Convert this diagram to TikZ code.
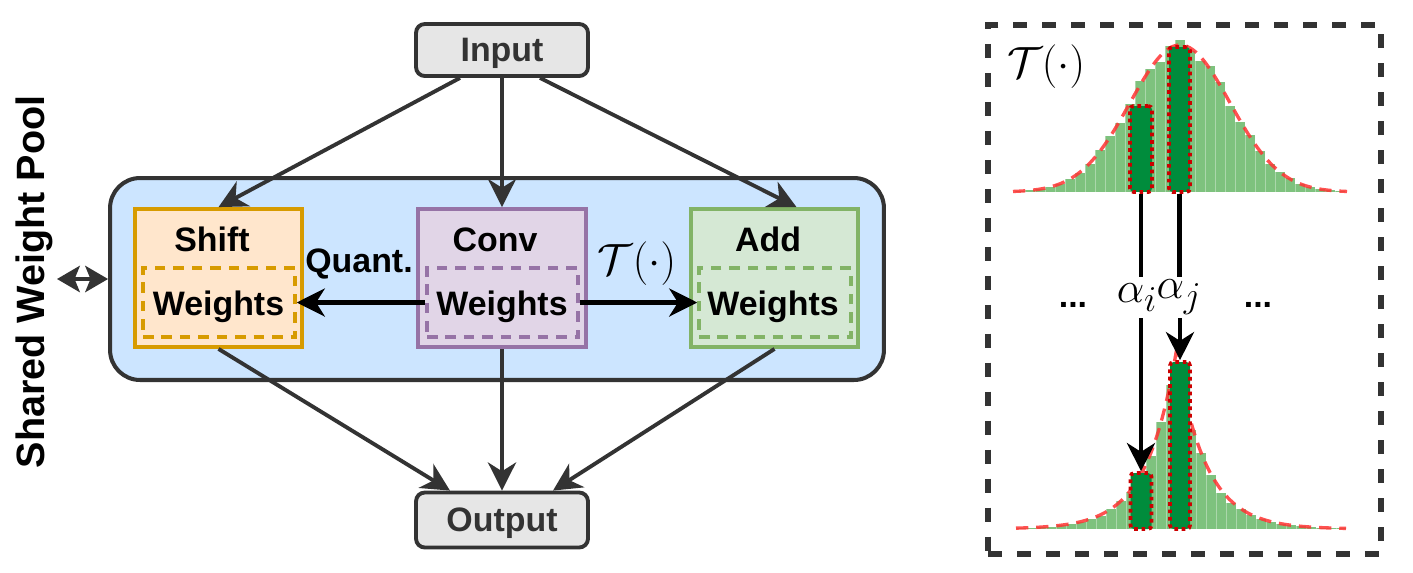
\documentclass[tikz,border=0pt]{standalone}
\usepackage{fontspec}
\setmainfont{Liberation Sans}
\usetikzlibrary{arrows.meta,calc}
\definecolor{dk}{HTML}{333333}
\definecolor{grayf}{HTML}{E6E6E6}
\definecolor{bluef}{HTML}{CCE5FF}
\definecolor{shiftf}{HTML}{FFE6CC}
\definecolor{shiftd}{HTML}{D79B00}
\definecolor{convf}{HTML}{E1D5E7}
\definecolor{convd}{HTML}{9673A6}
\definecolor{addf}{HTML}{D5E8D4}
\definecolor{addd}{HTML}{82B366}
\definecolor{histg}{RGB}{126,194,126}
\definecolor{darkg}{RGB}{0,140,60}
\definecolor{dotred}{HTML}{CC0000}
\definecolor{curvered}{HTML}{FF3333}
\newcommand\lblfont{\fontsize{19.3}{23}\selectfont\bfseries}
\newcommand\poolfont{\fontsize{22.5}{26}\selectfont\bfseries}
\newcommand\mathbig{\Huge}
\tikzset{
  tipA/.tip={Stealth[length=16pt,width=16pt,inset=5pt]},
  tipB/.tip={Stealth[length=13pt,width=15pt,inset=3pt]},
  iobox/.style={draw=dk, line width=2.2pt, rounded corners=5pt, fill=grayf,
    minimum width=3.44cm, font=\lblfont, text=dk, inner sep=0pt, text depth=0pt},
  modbox/.style={line width=2.2pt, minimum width=3.34cm, minimum height=2.76cm, inner sep=0pt},
  wbox/.style={dash pattern=on 6pt off 4.5pt, line width=2pt, minimum width=3.04cm,
    minimum height=1.38cm, inner sep=0pt},
  lbl/.style={font=\lblfont, inner sep=0pt, anchor=base},
  garrow/.style={draw=dk, line width=2.2pt, -tipA},
  karrow/.style={draw=black, line width=2.4pt, -tipA},
  hbar/.style={fill=darkg, draw=dotred, line width=2.1pt, dash pattern=on 2.1pt off 2.1pt,
    rounded corners=2pt, inner sep=0pt},
  redcurve/.style={draw=curvered, opacity=0.85, line width=1.9pt, dash pattern=on 7pt off 4.5pt}
}
\begin{document}
\begin{tikzpicture}[x=0.02cm,y=-0.02cm]
\useasboundingbox (0,0) rectangle (1413,572);

% ---------- left part ----------
\node[draw=dk, line width=2.3pt, fill=bluef, rounded corners=0.6cm,
      minimum width=15.48cm, minimum height=4.04cm] (pool) at (497,279) {};

\node[iobox, minimum height=1.04cm] (input) at (502,50) {Input};
\node[iobox, minimum height=1.10cm] (output) at (502,520) {Output};

\node[modbox, draw=shiftd, fill=shiftf] (shift) at (218.5,278) {};
\node[modbox, draw=convd, fill=convf, minimum width=3.36cm] (conv) at (502,278) {};
\node[modbox, draw=addd, fill=addf] (add) at (774.5,278) {};

\node[wbox, draw=shiftd] (shiftw) at (219,302.5) {};
\node[wbox, draw=convd, minimum width=3.02cm] (convw) at (502.5,302.5) {};
\node[wbox, draw=addd] (addw) at (775,302.5) {};

\node[lbl] (shiftt) at (212,251) {Shift};
\node[lbl] (convt) at (495,251) {Conv};
\node[lbl] (addt) at (768,251) {Add};

\node[lbl] (shiftwt) at (218.5,315) {Weights};
\node[lbl] (convwt) at (502,315) {Weights};
\node[lbl] (addwt) at (773,315) {Weights};

\node[lbl] (quant) at (359,272) {Quant.};
\node[inner sep=0pt, font=\mathbig] (tmid) at (637,264) {$\mathcal{T}(\cdot)$};

\node[rotate=90, font=\poolfont, inner sep=0pt] (poolt) at (34,282) {Shared Weight Pool};
\coordinate (poolend) at (57,279);
\coordinate (poolmid) at (83,279);
\draw[draw=dk, line width=2pt, -tipB] (poolmid) -- (poolend);
\draw[draw=dk, line width=2pt, -tipB] (poolmid) -- (pool.west);

% input / output connectors
\draw[garrow] ($(input.south)+(-42,0)$) -- (shift.north);
\draw[garrow] (input.south) -- (conv.north);
\draw[garrow] ($(input.south)+(38,0)$) -- ($(add.north)+(22,0)$);
\draw[garrow] (shift.south) -- ($(output.north)+(-52,0)$);
\draw[garrow] (conv.south) -- (output.north);
\draw[garrow] (add.south) -- ($(output.north)+(51,0)$);

% weight transfers
\draw[karrow] (convw.west) -- (shiftw.east);
\draw[karrow] (convw.east) -- (addw.west);

% ---------- right panel ----------
\node[draw=dk, line width=3pt, dash pattern=on 8pt off 8.5pt, minimum width=7.86cm,
      minimum height=10.58cm, inner sep=0pt] (panel) at (1184.5,289.5) {};
\node[inner sep=0pt, font=\mathbig] (tright) at (1046,67) {$\mathcal{T}(\cdot)$};

% top histogram (Gaussian)
\foreach \b in {0,...,32}{
  \pgfmathsetmacro\xa{1015+10*\b}
  \pgfmathsetmacro\hh{147*exp(-0.5*((\xa+5-1180)/50)^2)*(1+0.04*sin(\b*97))}
  \fill[histg] (\xa,192) rectangle ({\xa+10},{192-\hh});
  \draw[white, opacity=0.35, line width=0.3pt] (\xa,192) -- (\xa,{192-\hh});
}
\draw[redcurve] plot[domain=1013:1347, samples=120] (\x,{192-147*exp(-0.5*((\x-1180)/50)^2)});

% bottom histogram (Laplace-like)
\foreach \b in {0,...,32}{
  \pgfmathsetmacro\xa{1016+10*\b}
  \pgfmathsetmacro\hh{168*exp(-abs(\xa+5-1176)/30)*(1+0.05*sin(\b*83))}
  \fill[histg] (\xa,529) rectangle ({\xa+10},{529-\hh});
  \draw[white, opacity=0.35, line width=0.3pt] (\xa,529) -- (\xa,{529-\hh});
}
\draw[redcurve] plot[domain=1016:1346, samples=166] (\x,{529-176*exp(-abs(\x-1176)/30)});

% highlighted bins
\node[hbar, minimum width=0.44cm, minimum height=1.72cm] (topi) at (1141,149) {};
\node[hbar, minimum width=0.42cm, minimum height=2.9cm] (topj) at (1179.5,119.5) {};
\node[hbar, minimum width=0.42cm, minimum height=1.12cm] (boti) at (1141,501) {};
\node[hbar, minimum width=0.40cm, minimum height=3.34cm] (botj) at (1180,445.5) {};

% alpha labels and arrows
\node[inner sep=0pt, minimum height=0.82cm, font=\mathbig] (ai) at (1137,297.5) {$\alpha_i$};
\node[inner sep=0pt, minimum height=0.82cm, font=\mathbig] (aj) at (1179,297.5) {$\alpha_j$};
\draw[black, line width=2.4pt] (topi.south) -- (ai.north -| topi.south);
\draw[black, line width=2.4pt] (topj.south) -- (aj.north -| topj.south);
\draw[karrow] (ai.south -| boti.north) -- (boti.north);
\draw[karrow] (aj.south -| botj.north) -- (botj.north);

\node[lbl, anchor=center] (dotsl) at (1073,305) {...};
\node[lbl, anchor=center] (dotsr) at (1258,305) {...};
\end{tikzpicture}
\end{document}
